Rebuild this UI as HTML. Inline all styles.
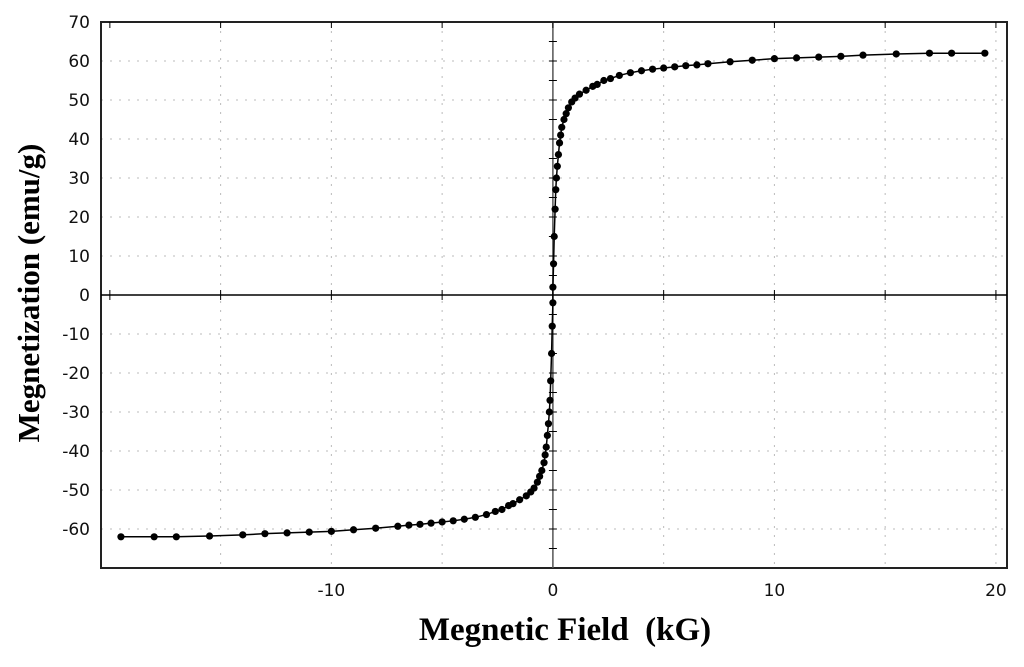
<!DOCTYPE html>
<html><head><meta charset="utf-8"><style>
body{margin:0;background:#fff;}
svg{display:block;}
.tk{font-family:"DejaVu Sans","Liberation Sans",sans-serif;font-size:17px;fill:#111;}
.tt{font-family:"Liberation Serif",serif;font-weight:bold;fill:#000;white-space:pre;}
</style></head><body>
<svg id="c" width="1024" height="667">
<g id="grid"></g><g id="axes"></g><g id="marks"></g><g id="labels"></g>
<text class="tt" font-size="33" x="565" y="640" text-anchor="middle" xml:space="preserve">Megnetic Field  (kG)</text>
<text class="tt" font-size="31" transform="translate(39,293) rotate(-90)" text-anchor="middle">Megnetization (emu/g)</text>
</svg>
<script>
const fieldUp=[0,0.03,0.06,0.1,0.13,0.16,0.2,0.25,0.3,0.35,0.4,0.5,0.6,0.7,0.85,1,1.2,1.5,1.8,2,2.3,2.6,3,3.5,4,4.5,5,5.5,6,6.5,7,8,9,10,11,12,13,14,15.5,17,18,19.5];
const magUp=[2,8,15,22,27,30,33,36,39,41,43,45,46.5,48,49.5,50.5,51.5,52.5,53.5,54,55,55.5,56.3,57,57.5,57.9,58.2,58.5,58.8,59,59.3,59.8,60.2,60.6,60.8,61,61.2,61.5,61.8,62,62,62];
const xTicks=[-10,0,10,20];
const yTicks=[70,60,50,40,30,20,10,0,-10,-20,-30,-40,-50,-60];
const xMin=-20.4,xMax=20.5,yMin=-70,yMax=70;
const L=101,R=1007,T=22,B=568;
const sx=v=>L+(v-xMin)/(xMax-xMin)*(R-L);
const sy=v=>B-(v-yMin)/(yMax-yMin)*(B-T);
const NS="http://www.w3.org/2000/svg";
function mk(t,a,p){const e=document.createElementNS(NS,t);for(const k in a)e.setAttribute(k,a[k]);p.appendChild(e);return e;}
const grid=document.getElementById('grid'),axes=document.getElementById('axes'),marks=document.getElementById('marks'),labels=document.getElementById('labels');
for(let v=-15;v<=20;v+=5){if(v===0)continue;const l=mk('line',{x1:sx(v),x2:sx(v),y1:T,y2:B,stroke:'#bbb','stroke-dasharray':'2,7'},grid);

}
for(let v=-60;v<=60;v+=10){if(v===0)continue;const l=mk('line',{x1:L,x2:R,y1:sy(v),y2:sy(v),stroke:'#bbb','stroke-dasharray':'2,7'},grid);

}
const fr=mk('rect',{x:L,y:T,width:R-L,height:B-T,fill:'none',stroke:'#222','stroke-width':2},axes);


const h0=mk('line',{x1:L,x2:R,y1:sy(0),y2:sy(0),stroke:'#000','stroke-width':1.5},axes);


const v0=mk('line',{x1:sx(0),x2:sx(0),y1:T,y2:B,stroke:'#555','stroke-width':1.5},axes);


for(let v=-20;v<=20;v+=5){mk('line',{x1:sx(v),x2:sx(v),y1:sy(0)-5,y2:sy(0)+5,stroke:'#000'},axes);mk('line',{x1:sx(v),x2:sx(v),y1:T,y2:T+6,stroke:'#000'},axes);}
for(let v=-65;v<=65;v+=5){mk('line',{x1:sx(0)-4,x2:sx(0)+4,y1:sy(v),y2:sy(v),stroke:'#000'},axes);}
xTicks.forEach(v=>{const t=mk('text',{x:sx(v),y:B+28,'text-anchor':'middle',class:'tk'},labels);t.textContent=v;

});
yTicks.forEach(v=>{const t=mk('text',{x:90,y:sy(v)+6,'text-anchor':'end',class:'tk'},labels);t.textContent=v;

});
const pts=[];
for(let i=fieldUp.length-1;i>=0;i--)pts.push([-fieldUp[i],-magUp[i]]);
for(let i=0;i<fieldUp.length;i++)pts.push([fieldUp[i],magUp[i]]);
const path=mk('path',{d:pts.map((p,i)=>(i?'L':'M')+sx(p[0])+','+sy(p[1])).join(''),fill:'none',stroke:'#000','stroke-width':1.5},marks);


pts.forEach(p=>{const c=mk('circle',{cx:sx(p[0]),cy:sy(p[1]),r:3.6,fill:'#000'},marks);

});
</script>
</body></html>
